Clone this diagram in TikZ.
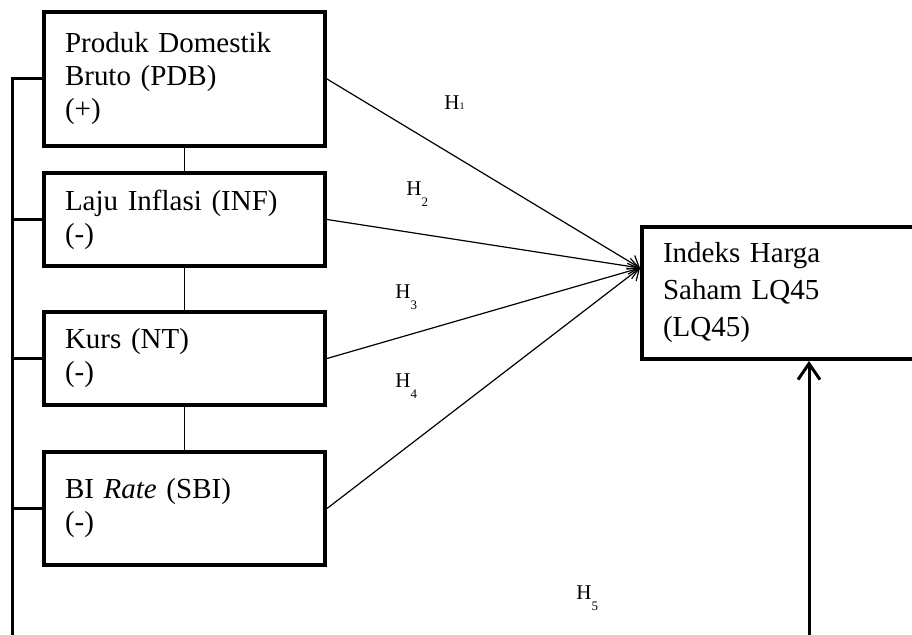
\documentclass[tikz,border=0pt]{standalone}
\usepackage{fontspec}
\setmainfont{Liberation Serif}
\usetikzlibrary{arrows.meta}
\newcommand{\hsub}[1]{\raisebox{-5.5pt}{\fontsize{6.5}{6.5}\selectfont #1}}
\tikzset{
varbox/.style={draw,line width=2pt,anchor=north west,align=left,inner xsep=10.5pt,
  text width=119.5pt,font=\fontsize{14.5}{16.5}\selectfont},
link/.style={line width=0.75pt},
busline/.style={line width=1.5pt},
hypline/.style={line width=0.6pt,-{Straight Barb[length=5pt,width=8pt]}},
upline/.style={line width=1.5pt,-{Straight Barb[length=8pt,width=11pt]}},
hyp/.style={anchor=base west,inner sep=0pt,font=\fontsize{10.5}{12}\selectfont}
}
\begin{document}
\begin{tikzpicture}[x=0.5pt,y=-0.5pt]
\useasboundingbox (0,0) rectangle (912,635);
\path  (42,10)node[varbox,minimum height=67pt] (pdb) {Produk Domestik\\Bruto (PDB)\\(+)};
\path  (42,171)node[varbox,minimum height=46.5pt] (inf) {Laju Inflasi (INF)\\(-)};
\path  (42,310)node[varbox,minimum height=46.5pt] (nt) {Kurs (NT)\\(-)};
\path  (42,450)node[varbox,minimum height=56.5pt] (sbi) {BI \textit{Rate} (SBI)\\(-)};
\path  (640,225)node[varbox,text width=129pt,minimum height=66pt,
  font=\fontsize{14.5}{18.5}\selectfont] (lq45) {Indeks Harga\\Saham LQ45\\(LQ45)};
\coordinate (tip) at ([yshift=12.5pt]lq45.west);
\coordinate (busbot) at (12,640);
\coordinate (h5bot) at (809,640);
% left bus
\draw[busline] (pdb.west) -| (busbot);
\draw[busline] (inf.west) -- (inf.west -| busbot);
\draw[busline] (nt.west) -- (nt.west -| busbot);
\draw[busline] (sbi.west) -- (sbi.west -| busbot);
\draw[link] (pdb.south) -- (inf.north);
\draw[link] (inf.south) -- (nt.north);
\draw[link] (nt.south) -- (sbi.north);
% hypotheses
\draw[hypline] (pdb.east) -- (tip);
\draw[hypline] (inf.east) -- (tip);
\draw[hypline] (nt.east) -- (tip);
\draw[hypline] (sbi.east) -- (tip);
\draw[upline] (h5bot) -- (h5bot |- lq45.south);
\node[hyp] (h1) at (444,110) {H{\fontsize{5}{5}\selectfont 1}};
\node[hyp] (h2) at (406,196) {H\hsub{2}};
\node[hyp] (h3) at (395,299) {H\hsub{3}};
\node[hyp] (h4) at (395,388) {H\hsub{4}};
\node[hyp] (h5) at (576,600) {H\hsub{5}};
\end{tikzpicture}
\end{document}
